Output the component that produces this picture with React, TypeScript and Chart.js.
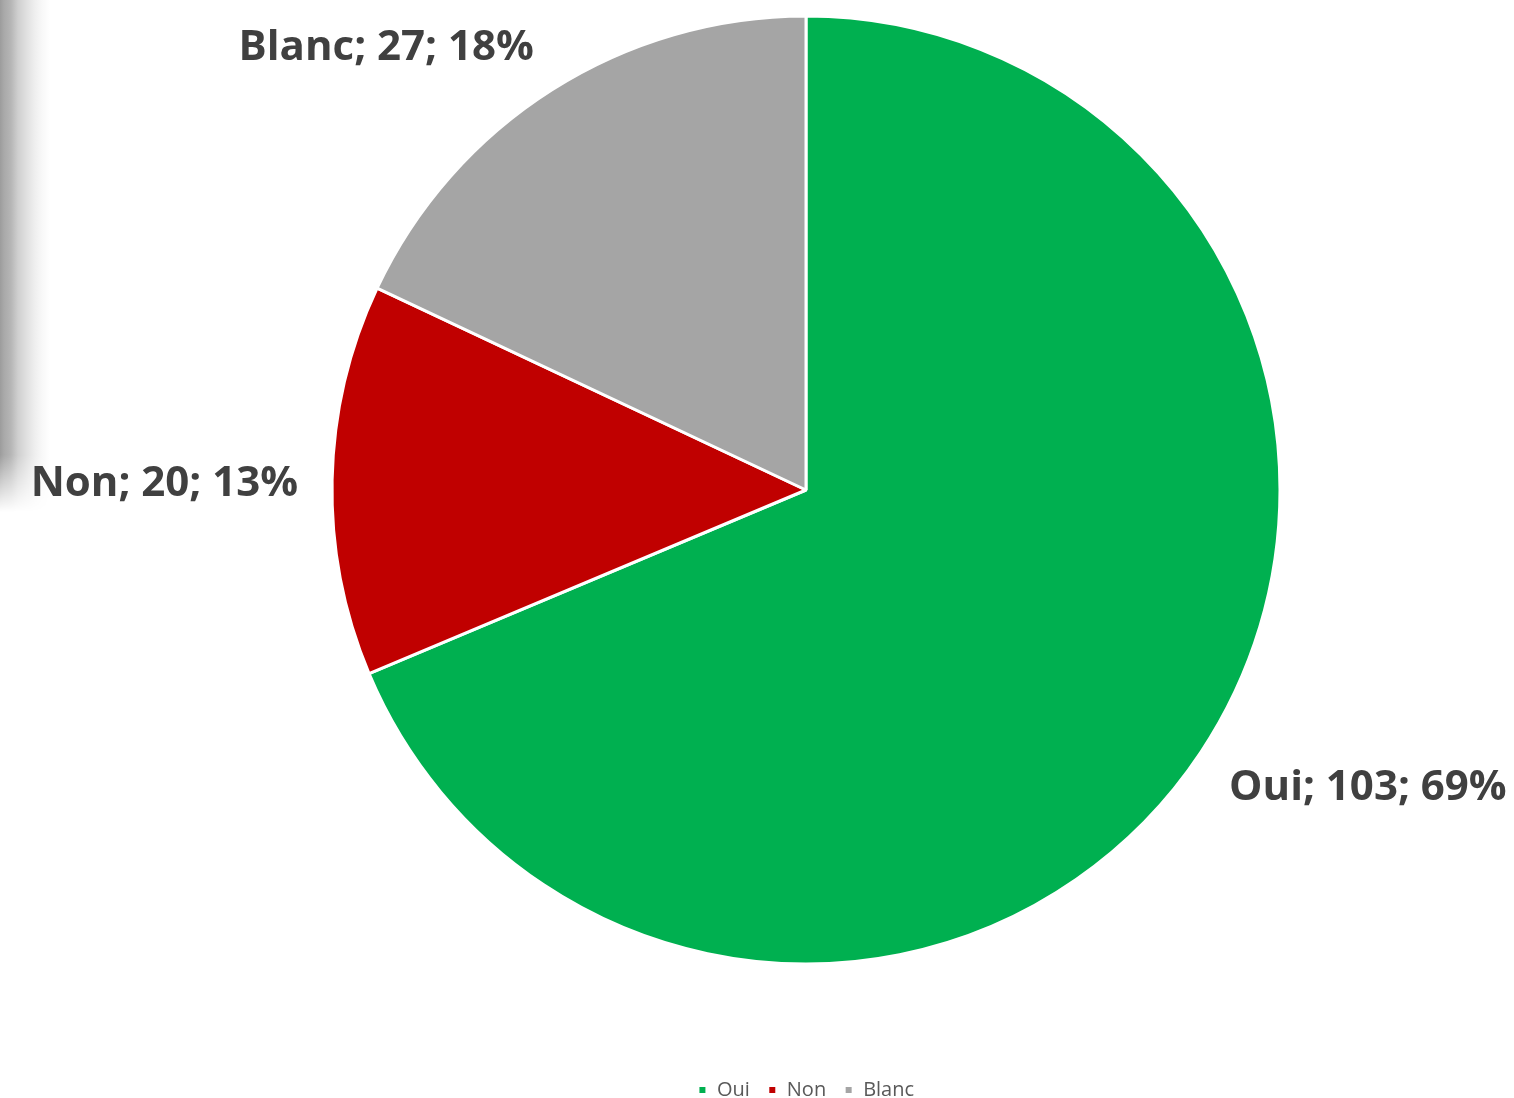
import React, { useEffect, useRef } from "react";
import { Chart, registerables } from "chart.js";

Chart.register(...registerables);

const categories = ["Oui", "Non", "Blanc"];
const values = [103, 20, 27];
const colors = ["#00B050", "#C00000", "#A5A5A5"];

const labelPlugin = {
  id: "outsideLabels",
  afterDatasetsDraw(chart: any) {
    const ctx = chart.ctx;
    const meta = chart.getDatasetMeta(0);
    const data = chart.data.datasets[0].data as number[];
    const total = data.reduce((a, b) => a + b, 0);
    ctx.save();
    ctx.font = "bold 42px 'Open Sans'";
    ctx.fillStyle = "#404040";
    ctx.textBaseline = "middle";
    meta.data.forEach((arc: any, i: number) => {
      const { x, y, startAngle, endAngle, outerRadius } = arc.getProps(
        ["x", "y", "startAngle", "endAngle", "outerRadius"],
        true
      );
      const mid = (startAngle + endAngle) / 2;
      const c = Math.cos(mid);
      const s = Math.sin(mid);
      const r = outerRadius + 34;
      const ax = x + c * r;
      const ay = y + s * r + s * 21 + 5;
      ctx.textAlign = c > 0.1 ? "left" : c < -0.1 ? "right" : "center";
      const pct = Math.round((data[i] / total) * 100);
      const text = `${chart.data.labels[i]}; ${data[i]}; ${pct}%`;
      ctx.fillText(text, ax, ay);
    });
    ctx.restore();
  },
};

export default function App() {
  const ref = useRef<HTMLCanvasElement>(null);
  useEffect(() => {
    if (!ref.current) return;
    const chart = new Chart(ref.current, {
      type: "pie",
      data: {
        labels: categories,
        datasets: [
          {
            data: values,
            backgroundColor: colors,
            borderColor: "#ffffff",
            borderWidth: 3,
          },
        ],
      },
      options: {
        responsive: false,
        animation: false,
        radius: 474,
        layout: { padding: { top: 16, left: 98, right: 0, bottom: 0 } },
        plugins: {
          tooltip: { enabled: false },
          legend: {
            position: "bottom",
            title: {
              display: true,
              text: "",
              font: { size: 10, lineHeight: 1 },
              padding: { top: 88, bottom: 0 },
            },
            labels: {
              boxWidth: 9,
              boxHeight: 9,
              padding: 18,
              color: "#595959",
              font: { family: "'Open Sans'", size: 20 },
            },
          },
        },
      },
      plugins: [labelPlugin],
    } as any);
    return () => chart.destroy();
  }, []);
  return (
    <div
      style={{
        position: "fixed",
        left: 0,
        top: 0,
        width: 1514,
        height: 1098,
        overflow: "hidden",
        background: "#fff",
      }}
    >
      <div
        style={{
          position: "absolute",
          left: 0,
          top: 0,
          width: 50,
          height: 515,
          background:
            "linear-gradient(to right, #9c9c9c 0px, #a9a9a9 4px, #b6b6b6 11px, #cfcfcf 18px, #e1e1e1 27px, #efefef 35px, #f8f8f8 42px, #ffffff 50px)",
          WebkitMaskImage: "linear-gradient(to bottom, #000 455px, transparent 512px)",
          maskImage: "linear-gradient(to bottom, #000 455px, transparent 512px)",
        }}
      />
      <canvas
        ref={ref}
        width={1514}
        height={1110}
        style={{ position: "absolute", left: 0, top: 0 }}
      />
    </div>
  );
}
